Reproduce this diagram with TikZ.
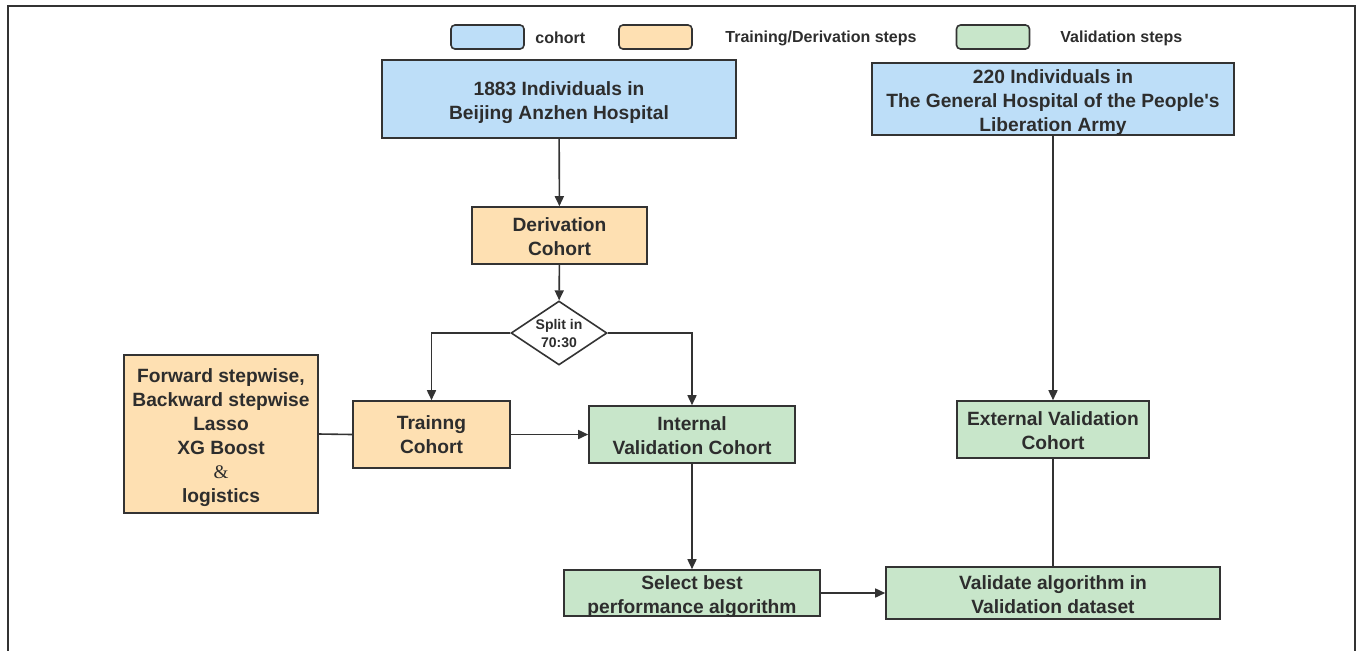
\documentclass[tikz,border=0pt]{standalone}
\usepackage{fontspec}
\setmainfont{Liberation Sans}
\newfontfamily\serifamp{Liberation Serif}
\usetikzlibrary{shapes.geometric,arrows.meta}
\definecolor{cblue}{RGB}{189,222,248}
\definecolor{corange}{RGB}{254,224,178}
\definecolor{cgreen}{RGB}{200,230,202}
\definecolor{cline}{RGB}{51,51,51}
\definecolor{ctext}{RGB}{45,45,45}
\begin{document}
\begin{tikzpicture}[x=0.5pt,y=-0.5pt,
  box/.style={draw=cline,line width=0.8pt,rectangle,inner sep=0pt},
  boxtext/.style={inner sep=0pt,align=center,font=\fontsize{9.6}{12}\selectfont\bfseries,text=ctext},
  bluebox/.style={box,fill=cblue},
  orangebox/.style={box,fill=corange},
  greenbox/.style={box,fill=cgreen},
  legbox/.style={draw=cline,line width=0.8pt,rounded corners=2pt,minimum width=36.5pt,minimum height=12pt,inner sep=0pt},
  legtext/.style={font=\fontsize{8}{10}\selectfont\bfseries,text=ctext,anchor=west,inner sep=0pt},
  conn/.style={draw=cline,line width=0.8pt},
  arr/.style={conn,-{Triangle[length=5pt,width=4.5pt]}}
]
\useasboundingbox (0,0) rectangle (1360,650);
% frame
\draw[draw=cline,line width=0.7pt] (8,652) -- (8,6) -- (1355,6) -- (1355,652);
% legend
\node[legbox,fill=cblue] (l1) at (487.5,37) {};
\node[legtext] (l1t) at (535,38) {cohort};
\node[legbox,fill=corange] (l2) at (655.5,37) {};
\node[legtext] (l2t) at (725,38) {Training/Derivation steps};
\node[legbox,fill=cgreen] (l3) at (993,37) {};
\node[legtext] (l3t) at (1060,38) {Validation steps};
% boxes
\node[bluebox,minimum width=177pt,minimum height=39pt] (A) at (559,99) {};
\node[boxtext] (At) at ([yshift=-2pt]A.center) {1883 Individuals in\\Beijing Anzhen Hospital};
\node[bluebox,minimum width=181pt,minimum height=36pt] (B) at (1053,99) {};
\node[boxtext] (Bt) at ([yshift=-2pt]B.center) {220 Individuals in\\The General Hospital of the People\textquotesingle s\\Liberation Army};
\node[orangebox,minimum width=87.5pt,minimum height=28.5pt] (D) at (559.5,235.5) {};
\node[boxtext] (Dt) at ([yshift=-0.5pt]D.center) {Derivation\\Cohort};
\node[diamond,draw=cline,line width=0.8pt,fill=white,minimum width=48pt,minimum height=32pt,inner sep=0pt] (S) at (559,333) {};
\node[align=center,inner sep=0pt,font=\fontsize{7}{9}\selectfont\bfseries,text=ctext] (St) at (S.center) {Split in\\70:30};
\node[orangebox,minimum width=78.5pt,minimum height=33.5pt] (T) at (431.5,434.5) {};
\node[boxtext] (Tt) at (T.center) {Trainng\\Cohort};
\node[orangebox,minimum width=97pt,minimum height=79pt] (M) at (221,434) {};
\node[boxtext] (Mt) at ([yshift=-1.7pt]M.center) {Forward stepwise,\\Backward stepwise\\Lasso\\XG Boost\\{\serifamp\mdseries\&}\\logistics};
\node[greenbox,minimum width=103pt,minimum height=28.5pt] (I) at (692,434.5) {};
\node[boxtext] (It) at ([yshift=-0.5pt]I.center) {Internal\\Validation Cohort};
\node[greenbox,minimum width=96pt,minimum height=28.5pt] (E) at (1053,429.5) {};
\node[boxtext] (Et) at ([yshift=-0.5pt]E.center) {External Validation\\Cohort};
\node[greenbox,minimum width=128pt,minimum height=23pt] (SB) at (692,593) {};
\node[boxtext] (SBt) at ([yshift=-2pt]SB.center) {Select best\\performance algorithm};
\node[greenbox,minimum width=167pt,minimum height=26pt] (V) at (1053,593) {};
\node[boxtext] (Vt) at ([yshift=-1pt]V.center) {Validate algorithm in\\Validation dataset};
% connectors
\draw[arr] (A) -- (D);
\draw[arr] (D) -- (S);
\draw[arr] (S.west) -| (T.north);
\draw[arr] (S.east) -| (I.north);
\draw[conn] (M.east) -- (T.west);
\draw[arr] (T.east) -- (I.west);
\draw[arr] (I) -- (SB);
\draw[arr] (SB) -- (V);
\draw[arr] (B) -- (E);
\draw[conn] (E) -- (V);
\end{tikzpicture}
\end{document}
